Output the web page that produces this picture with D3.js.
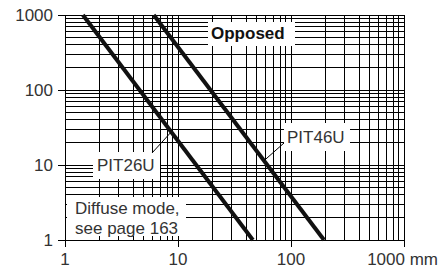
<!DOCTYPE html>
<html><head><meta charset="utf-8">
<script src="https://cdn.jsdelivr.net/npm/d3@7/dist/d3.min.js"></script>
<style>html,body{margin:0;padding:0;background:#fff;}svg{display:block;font-family:"Liberation Sans",Arial,sans-serif;}</style>
</head><body>
<script>
const xTicks = [1, 10, 100, 1000];
const yTicks = [1, 10, 100, 1000];
const xTickLabels = ["1", "10", "100", "1000 mm"];
const yTickLabels = ["1", "10", "100", "1000"];
const seriesNames = ["PIT26U", "PIT46U"];
const pit26u = [[1.44, 1000], [46, 1]];
const pit46u = [[6.1, 1000], [196, 1]];
const title = "Opposed";
const note = ["Diffuse mode,", "see page 163"];

const W = 440, H = 271;
const svg = d3.select("body").append("svg").attr("width", W).attr("height", H);
const x = d3.scaleLog().domain([1, 1000]).range([65, 404]);
const y = d3.scaleLog().domain([1, 1000]).range([240, 15]);

const gridVals = [];
for (let d = 1; d < 1000; d *= 10) for (let k = 1; k <= 10; k++) { const v = d * k; if (!gridVals.includes(v)) gridVals.push(v); }

const g = svg.append("g");
g.selectAll("line.vx").data(gridVals).join("line")
  .attr("x1", d => x(d)).attr("x2", d => x(d)).attr("y1", y(1)).attr("y2", y(1000))
  .attr("stroke", "#000").attr("stroke-width", 1).attr("shape-rendering", "crispEdges");
g.selectAll("line.hy").data(gridVals).join("line")
  .attr("y1", d => y(d)).attr("y2", d => y(d)).attr("x1", x(1)).attr("x2", x(1000))
  .attr("stroke", "#000").attr("stroke-width", 1).attr("shape-rendering", "crispEdges");

const xAxis = d3.axisBottom(x).tickValues(xTicks).tickSize(7).tickFormat("");
const yAxis = d3.axisLeft(y).tickValues(yTicks).tickSize(7).tickFormat("");
svg.append("g").attr("transform", `translate(0,${y(1)})`).call(xAxis)
  .call(s => s.select(".domain").remove())
  .call(s => s.selectAll("line").attr("stroke", "#000").attr("shape-rendering", "crispEdges"));
svg.append("g").attr("transform", `translate(${x(1)},0)`).call(yAxis)
  .call(s => s.select(".domain").remove())
  .call(s => s.selectAll("line").attr("stroke", "#000").attr("shape-rendering", "crispEdges"));

const fs = 17, col = "#333";
svg.selectAll("text.xl").data(xTicks).join("text")
  .attr("x", (d, i) => i === 3 ? x(d) + 34 : x(d)).attr("y", 265)
  .attr("text-anchor", (d, i) => i === 3 ? "end" : "middle")
  .attr("font-size", fs).attr("fill", col).text((d, i) => xTickLabels[i]);
svg.selectAll("text.yl").data(yTicks).join("text")
  .attr("x", 53).attr("y", d => y(d)).attr("dy", "0.35em").attr("text-anchor", "end")
  .attr("font-size", fs).attr("fill", col).text((d, i) => yTickLabels[i]);

function box(x0, y0, x1, y1) {
  svg.append("rect").attr("x", x0).attr("y", y0).attr("width", x1 - x0).attr("height", y1 - y0).attr("fill", "#fff");
}
box(208, 22, 295, 46);
box(284, 123, 350, 151);
box(93, 152, 160, 179);
box(67, 197, 186, 236);

const line = d3.line().x(d => x(d[0])).y(d => y(d[1]));
[pit26u, pit46u].forEach(s => {
  svg.append("path").attr("d", line(s)).attr("fill", "none").attr("stroke", "#111").attr("stroke-width", 4);
});

svg.append("line").attr("x1", 152).attr("y1", 153).attr("x2", x(8.6)).attr("y2", y(27))
  .attr("stroke", "#000").attr("stroke-width", 1);
svg.append("line").attr("x1", 284).attr("y1", 143).attr("x2", x(58)).attr("y2", y(11.5))
  .attr("stroke", "#000").attr("stroke-width", 1);

svg.append("text").attr("x", 211).attr("y", 39).attr("font-size", 17).attr("font-weight", "bold").attr("fill", "#111").text(title);
svg.append("text").attr("x", 287).attr("y", 143).attr("font-size", fs).attr("fill", col).text(seriesNames[1]);
svg.append("text").attr("x", 97).attr("y", 171).attr("font-size", fs).attr("fill", col).text(seriesNames[0]);
note.forEach((t, i) => {
  svg.append("text").attr("x", 75).attr("y", 214 + i * 20).attr("font-size", fs).attr("fill", col).text(t);
});
</script>
</body></html>
